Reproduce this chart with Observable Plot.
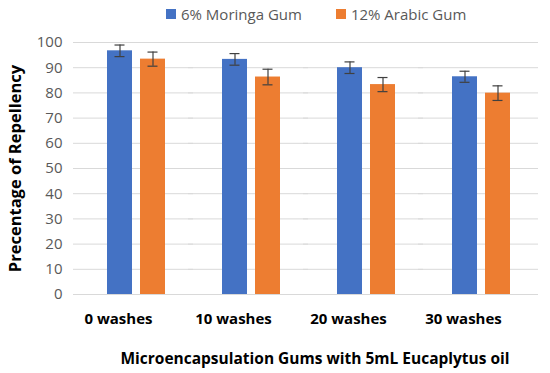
<!DOCTYPE html>
<html>
<head>
<meta charset="utf-8">
<script src="https://cdn.jsdelivr.net/npm/d3@7"></script>
<script src="https://cdn.jsdelivr.net/npm/@observablehq/plot@0.6"></script>
<style>
  body { margin: 0; background: #fff; font-family: "Open Sans", sans-serif; }
  #wrap { width: 550px; height: 373px; position: relative; }
  .legend { height: 28px; display: flex; align-items: center; padding-left: 166px; font-size: 15px; color: #595959; box-sizing: border-box; }
  .legend .item { display: flex; align-items: center; margin-right: 34px; }
  .legend .sw { width: 10px; height: 10px; margin-right: 5px; }
  .caption { height: 30px; line-height: 30px; text-align: center; padding-left: 80px; font-weight: bold; font-size: 15.5px; color: #000; box-sizing: border-box; white-space: nowrap; }
</style>
</head>
<body>
<div id="wrap">
  <div class="legend" id="legend"></div>
  <div id="chart"></div>
  <div class="caption" id="caption"></div>
</div>
<script>
const washes = ["0 washes", "10 washes", "20 washes", "30 washes"];
const seriesNames = ["6% Moringa Gum", "12% Arabic Gum"];
const seriesColors = ["#4472C4", "#ED7D31"];
const moringa = [96.7, 93.3, 90.0, 86.4];
const moringaErr = [2.3, 2.3, 2.3, 2.2];
const arabic = [93.4, 86.3, 83.3, 79.9];
const arabicErr = [2.8, 3.1, 2.8, 2.9];
const yTicks = [0, 10, 20, 30, 40, 50, 60, 70, 80, 90, 100];
const yTitle = "Precentage of Repellency";
const xTitle = "Microencapsulation Gums with 5mL Eucaplytus oil";

const rows = washes.flatMap((w, i) => [
  {wash: w, series: seriesNames[0], value: moringa[i], err: moringaErr[i]},
  {wash: w, series: seriesNames[1], value: arabic[i], err: arabicErr[i]}
]);

const legend = document.getElementById("legend");
seriesNames.forEach((s, i) => {
  const item = document.createElement("div");
  item.className = "item";
  const sw = document.createElement("div");
  sw.className = "sw";
  sw.style.background = seriesColors[i];
  const t = document.createElement("span");
  t.textContent = s;
  item.appendChild(sw); item.appendChild(t);
  legend.appendChild(item);
});
document.getElementById("caption").textContent = xTitle;

const chart = Plot.plot({
  width: 550,
  height: 315,
  marginTop: 14,
  marginBottom: 49,
  marginLeft: 78,
  marginRight: 12,
  style: {fontFamily: "Open Sans, sans-serif", fontSize: "15px", color: "#595959", background: "#fff"},
  facet: {data: rows, x: "wash"},
  fx: {domain: washes, paddingInner: 0.5, paddingOuter: 0.25, label: null, axis: null},
  x: {domain: seriesNames, paddingInner: 0.25, paddingOuter: 0, axis: null},
  y: {domain: [0, 100], label: null, axis: null},
  color: {domain: seriesNames, range: seriesColors},
  marks: [
    Plot.ruleY(yTicks, {stroke: "#d9d9d9", strokeWidth: 1, insetLeft: -34, insetRight: -28}),
    Plot.barY(rows, {x: "series", y: "value", fill: "series"}),
    Plot.ruleX(rows, {x: "series", y1: d => d.value - d.err, y2: d => d.value + d.err, stroke: "#404040", strokeWidth: 1.2}),
    Plot.tickY(rows, {x: "series", y: d => d.value - d.err, stroke: "#404040", strokeWidth: 1.2, insetLeft: 7.5, insetRight: 7.5}),
    Plot.tickY(rows, {x: "series", y: d => d.value + d.err, stroke: "#404040", strokeWidth: 1.2, insetLeft: 7.5, insetRight: 7.5}),
    Plot.axisY({ticks: yTicks, tickSize: 0, tickPadding: 45, stroke: null, fill: "#595959", fontSize: 15, label: yTitle, labelArrow: "none", labelAnchor: "center", labelOffset: 98}),
    Plot.axisFx({anchor: "bottom", tickSize: 0, tickPadding: 19, dx: -18, fill: "#000", fontWeight: "bold", fontSize: 15, label: null})
  ]
});
document.getElementById("chart").appendChild(chart);
chart.querySelectorAll('[aria-label="y-axis label"] text').forEach(t => {
  t.setAttribute("font-weight", "bold");
  t.setAttribute("fill", "#000");
  t.setAttribute("font-size", "16.5");
});
</script>
</body>
</html>
